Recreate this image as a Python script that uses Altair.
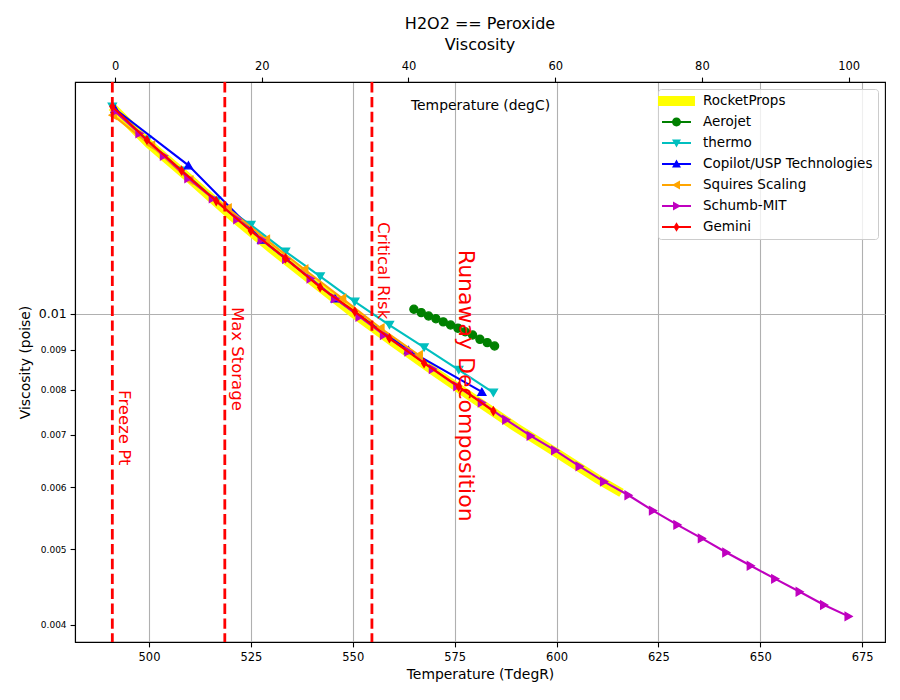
import altair as alt
import pandas as pd

FONT = "DejaVu Sans"

# ---- series (temperature in degR, viscosity in poise) ----
SERIES = ["RocketProps", "Aerojet", "thermo", "Copilot/USP Technologies",
          "Squires Scaling", "Schumb-MIT", "Gemini"]
COLORS = ["#ffff00", "#008000", "#00bfbf", "#0000ff", "#ffa500", "#bf00bf", "#ff0000"]

rocketprops_t = [491.67, 500.0, 510.0, 520.0, 530.0, 540.0, 550.0, 560.0, 570.0,
                 580.0, 590.0, 600.0, 610.0, 615.0]
rocketprops_v = [0.01825, 0.01651, 0.01489, 0.01338, 0.01212, 0.01102, 0.01003, 0.00919,
                 0.00844, 0.00777, 0.00716, 0.00664, 0.00615, 0.00594]

aerojet_t = [565.0, 566.8, 568.6, 570.4, 572.2, 574.0, 575.8, 577.6, 579.4, 581.2, 583.0, 584.8]
aerojet_v = [0.01014, 0.01004, 0.00994, 0.00986, 0.00977, 0.00968, 0.00959, 0.00949,
             0.00940, 0.00928, 0.00919, 0.00910]

thermo_t = [491.0, 499.5, 508.0, 516.5, 525.0, 533.5, 542.0, 550.5, 559.0, 567.5, 576.0, 584.5]
thermo_v = [0.01843, 0.01670, 0.01526, 0.01397, 0.01300, 0.01202, 0.01117, 0.01037,
            0.00968, 0.00906, 0.00848, 0.00793]

copilot_t = [491.67, 509.67, 527.67, 545.67, 563.67, 581.67]
copilot_v = [0.01830, 0.01550, 0.01245, 0.01047, 0.00899, 0.00795]

squires_t = [491.1, 500.5, 509.9, 519.3, 528.7, 538.1, 547.4, 556.8, 566.2]
squires_v = [0.01797, 0.01644, 0.01484, 0.01366, 0.01246, 0.01141, 0.01047, 0.00959, 0.00886]

schumb_t = [491.67, 497.67, 503.67, 509.67, 515.67, 521.67, 527.67, 533.67, 539.67, 545.67,
            551.67, 557.67, 563.67, 569.67, 575.67, 581.67, 587.67, 593.67, 599.67, 605.67,
            611.67, 617.67, 623.67, 629.67, 635.67, 641.67, 647.67, 653.67, 659.67, 665.67,
            671.67]
schumb_v = [0.01816, 0.01703, 0.01594, 0.01492, 0.01406, 0.01322, 0.01244, 0.01176, 0.01110,
            0.01047, 0.00992, 0.00940, 0.00895, 0.00850, 0.00808, 0.00770, 0.00732, 0.00698,
            0.00669, 0.00638, 0.00610, 0.00586, 0.00560, 0.00537, 0.00516, 0.00495, 0.00476,
            0.00458, 0.00441, 0.00424, 0.00410]

gemini_t = [491.0, 499.5, 508.0, 516.5, 525.0, 533.5, 542.0, 550.5, 559.0, 567.5, 576.0, 584.5]
gemini_v = [0.01843, 0.01670, 0.01526, 0.01395, 0.01278, 0.01178, 0.01082, 0.01007,
            0.00931, 0.00865, 0.00807, 0.00751]

# reference temperatures (degR) and their labels
limit_t = [491.0, 518.6, 554.7]
note_text = ["Freeze Pt", "Max Storage", "Critical Risk"]
note_t = [493.9, 521.6, 557.35]
note_v = [0.00799, 0.01021, 0.01311]
big_note_text = ["Runaway Decomposition"]
big_note_t = [577.7]
big_note_v = [0.01208]

x_ticks = [500, 525, 550, 575, 600, 625, 650, 675]
y_ticks = [0.004, 0.005, 0.006, 0.007, 0.008, 0.009, 0.01]
c_ticks = [0, 20, 40, 60, 80, 100]

T_DOMAIN = [481.84, 680.6]
C_DOMAIN = [(T_DOMAIN[0] - 491.67) / 1.8, (T_DOMAIN[1] - 491.67) / 1.8]
V_DOMAIN = [0.0038022, 0.019815]


def frame(t, v):
    return pd.DataFrame({"temp": t, "visc": v})


x_scale = alt.Scale(domain=T_DOMAIN, nice=False, zero=False)
y_scale = alt.Scale(type="log", domain=V_DOMAIN, nice=False)

is_major = "datum.value > 0.0095"

x_axis = alt.Axis(
    title="Temperature (TdegR)", values=x_ticks, format="d",
    grid=True, gridColor="#b0b0b0", gridWidth=1.1,
    domainColor="black", domainWidth=1.1, tickColor="black", tickWidth=1.1, tickSize=4.9,
    labelFont=FONT, labelFontSize=11.5, labelColor="black", labelPadding=5,
    titleFont=FONT, titleFontSize=13.9, titleFontWeight="normal", titleColor="black",
    titlePadding=4,
)
y_axis = alt.Axis(
    title="Viscosity (poise)", values=y_ticks, format=".3~f",
    grid=True, gridColor="#b0b0b0", gridWidth=1.1,
    gridOpacity={"condition": {"test": is_major, "value": 1}, "value": 0},
    domainColor="black", domainWidth=1.1, tickColor="black", tickWidth=1.1,
    tickSize=4.9,
    labelFont=FONT, labelColor="black", labelPadding=4,
    labelFontSize={"condition": {"test": is_major, "value": 12.5}, "value": 9},
    titleFont=FONT, titleFontSize=13.9, titleFontWeight="normal", titleColor="black",
    titlePadding=6,
)

X = alt.X("temp:Q", scale=x_scale, axis=x_axis)
Y = alt.Y("visc:Q", scale=y_scale, axis=y_axis)

LINE_W = 2.1
PT_SIZE = 66

thin_diamond = "M 0 -1 L 0.6 0 L 0 1 L -0.6 0 Z"

layers = [
    alt.Chart(frame(rocketprops_t, rocketprops_v)).mark_line(
        color=COLORS[0], strokeWidth=9, strokeCap="square").encode(x=X, y=Y)
]

marker_specs = [
    (aerojet_t, aerojet_v, COLORS[1], "circle"),
    (thermo_t, thermo_v, COLORS[2], "triangle-down"),
    (copilot_t, copilot_v, COLORS[3], "triangle-up"),
    (squires_t, squires_v, COLORS[4], "triangle-left"),
    (schumb_t, schumb_v, COLORS[5], "triangle-right"),
    (gemini_t, gemini_v, COLORS[6], thin_diamond),
]
for t, v, c, shp in marker_specs:
    base = alt.Chart(frame(t, v))
    layers.append(base.mark_line(color=c, strokeWidth=LINE_W).encode(x=X, y=Y))
    layers.append(base.mark_point(shape=shp, filled=True, fill=c, stroke=c, strokeWidth=1.3,
                                  size=PT_SIZE, opacity=1).encode(x=X, y=Y))

# dashed limit lines
layers.append(
    alt.Chart(pd.DataFrame({"temp": limit_t})).mark_rule(
        color="#ff0000", strokeWidth=2.8, strokeDash=[10.4, 4.5]).encode(x=X)
)

# rotated notes beside the limit lines
layers.append(
    alt.Chart(pd.DataFrame({"temp": note_t, "visc": note_v, "txt": note_text})).mark_text(
        angle=90, align="left", baseline="middle", color="#ff0000", font=FONT, fontSize=16.5
    ).encode(x=X, y=Y, text="txt:N")
)
layers.append(
    alt.Chart(pd.DataFrame({"temp": big_note_t, "visc": big_note_v, "txt": big_note_text})).mark_text(
        angle=90, align="left", baseline="middle", color="#ff0000", font=FONT, fontSize=22
    ).encode(x=X, y=Y, text="txt:N")
)

# legend symbols: line segment with the series marker on it
L = 2.07
h = 0.15
seg = f"M {-L} {-h} L {L} {-h} L {L} {h} L {-L} {h} Z "
r = 0.64
b = 0.5
legend_shapes = [
    "M -2.64 -0.71 L 2.64 -0.71 L 2.64 0.71 L -2.64 0.71 Z",
    seg + f"M {r} 0 A {r} {r} 0 1 1 {-r} 0 A {r} {r} 0 1 1 {r} 0 Z",
    seg + f"M 0 {r} L {-r} {-b} L {r} {-b} Z",
    seg + f"M 0 {-r} L {r} {b} L {-r} {b} Z",
    seg + f"M {-r} 0 L {b} {-r} L {b} {r} Z",
    seg + f"M {r} 0 L {-b} {r} L {-b} {-r} Z",
    seg + "M 0 -0.68 L 0.42 0 L 0 0.68 L -0.42 0 Z",
]

legend_layer = alt.Chart(pd.DataFrame({"series": SERIES})).transform_filter("false").mark_point(
    filled=True, opacity=1
).encode(
    color=alt.Color("series:N", scale=alt.Scale(domain=SERIES, range=COLORS), sort=SERIES,
                    legend=alt.Legend(title=None)),
    shape=alt.Shape("series:N", scale=alt.Scale(domain=SERIES, range=legend_shapes), sort=SERIES,
                    legend=alt.Legend(title=None)),
)
layers.append(legend_layer)

inner = alt.layer(*layers)

# degC axis along the top
top_axis = alt.Chart(pd.DataFrame({"tc": [0]})).mark_point(opacity=0).encode(
    x=alt.X("tc:Q", scale=alt.Scale(domain=C_DOMAIN, nice=False, zero=False),
            axis=alt.Axis(orient="top", values=c_ticks, format="d", grid=False,
                          title="Temperature (degC)", titleY=23, titleBaseline="middle",
                          domainColor="black", domainWidth=1.1, tickColor="black",
                          tickWidth=1.1, tickSize=4.9,
                          labelFont=FONT, labelFontSize=11.5, labelColor="black", labelPadding=6,
                          titleFont=FONT, titleFontSize=13.9, titleFontWeight="normal",
                          titleColor="black"))
)

chart = alt.layer(inner, top_axis).resolve_scale(x="independent").properties(
    width=810, height=560,
    padding={"left": 75, "top": 82, "right": 15, "bottom": 58},
    autosize=alt.AutoSizeParams(type="none"),
    title=alt.TitleParams(["H2O2 == Peroxide", "Viscosity"], font=FONT, fontSize=16,
                          fontWeight="normal", color="black", anchor="middle",
                          lineHeight=21, offset=7),
).configure_view(
    stroke="black", strokeWidth=1.1
).configure_legend(
    orient="top-right", offset=7, padding=5, strokeColor="#cccccc", fillColor="rgba(255,255,255,0.8)",
    cornerRadius=3, labelFont=FONT, labelFontSize=13.5, labelColor="black", labelLimit=0,
    symbolSize=196, symbolOffset=6.5, labelOffset=19.5, rowPadding=7, symbolStrokeWidth=0,
)

chart.save("out.html", embed_options={"renderer": "svg", "actions": False})
